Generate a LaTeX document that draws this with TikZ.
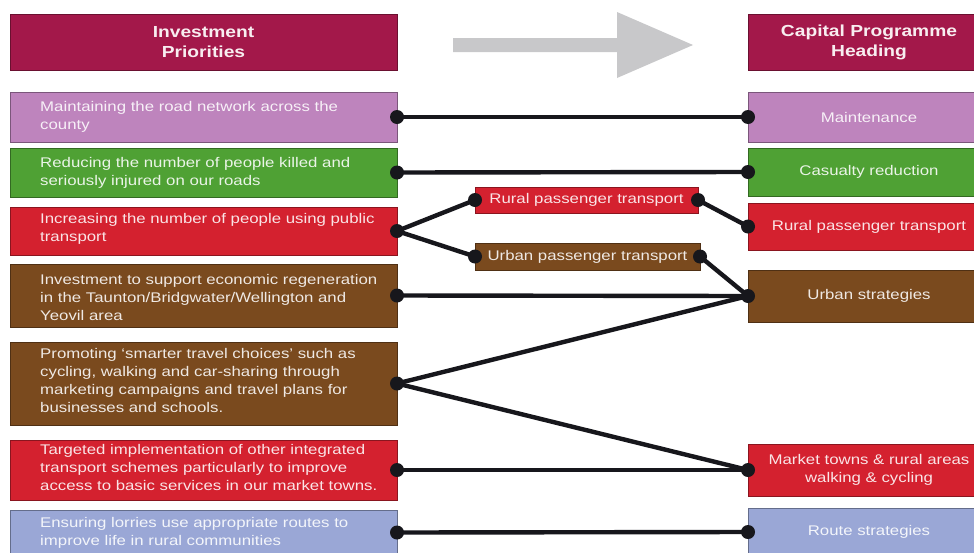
\documentclass[tikz,border=0pt]{standalone}
\usepackage{fontspec}
\setmainfont{Liberation Sans}[FakeStretch=1.2]
\definecolor{cHead}{HTML}{A3184A}
\definecolor{cPurple}{HTML}{BE84BD}
\definecolor{cGreen}{HTML}{4FA134}
\definecolor{cRed}{HTML}{D4212F}
\definecolor{cBrown}{HTML}{7A4A1E}
\definecolor{cBlue}{HTML}{9AA7D6}
\definecolor{cArrow}{HTML}{C8C8CA}
\definecolor{cLink}{HTML}{17171C}
\begin{document}
\begin{tikzpicture}[x=1pt,y=-1pt,
  bx/.style={draw=#1!65!black, fill=#1, line width=0.9pt, inner sep=0pt, outer sep=0pt,
    text=#1!12!white, font=\fontsize{14}{18}\selectfont, align=center},
  lbox/.style={bx=#1, minimum width=387pt},
  rbox/.style={bx=#1, minimum width=242pt},
  hbox/.style={bx=cHead, font=\bfseries\fontsize{16}{20}\selectfont, text=cHead!8!white},
  ltext/.style={anchor=west, align=left, inner sep=0pt, text=#1!12!white,
    font=\fontsize{14}{18}\selectfont},
  link/.style={draw=cLink, line width=4.4pt},
  dot/.style={fill=cLink}
]
\useasboundingbox (0,0) rectangle (974,552);
\fill[white] (0,0) rectangle (974,552);

% column headings
\node[hbox, minimum width=387pt, minimum height=56pt] (HL) at (203.5,42) {Investment\\Priorities};
\node[hbox, minimum width=242pt, minimum height=56pt] (HR) at (869,42) {Capital Programme\\Heading};

% direction arrow between the headings
\fill[cArrow] (453,38) -- (617,38) -- (617,12) -- (693,45) -- (617,78) -- (617,52) -- (453,52) -- cycle;

% investment priorities
\node[lbox=cPurple, minimum height=50pt] (L1) at (203.5,117) {};
\node[lbox=cGreen,  minimum height=49pt] (L2) at (203.5,172.5) {};
\node[lbox=cRed,    minimum height=48pt] (L3) at (203.5,231) {};
\node[lbox=cBrown,  minimum height=63pt] (L4) at (203.5,295.5) {};
\node[lbox=cBrown,  minimum height=83pt] (L5) at (203.5,383.5) {};
\node[lbox=cRed,    minimum height=60pt] (L6) at (203.5,470) {};
\node[lbox=cBlue,   minimum height=45pt] (L7) at (203.5,532.5) {};

\node[ltext=cPurple] (L1t) at (40,117) {Maintaining the road network across the\\county};
\node[ltext=cGreen]  (L2t) at (40,172.5) {Reducing the number of people killed and\\seriously injured on our roads};
\node[ltext=cRed]    (L3t) at (40,229) {Increasing the number of people using public\\transport};
\node[ltext=cBrown]  (L4t) at (40,297) {Investment to support economic regeneration\\in the Taunton/Bridgwater/Wellington and\\Yeovil area};
\node[ltext=cBrown]  (L5t) at (40,380) {Promoting ‘smarter travel choices’ such as\\cycling, walking and car-sharing through\\marketing campaigns and travel plans for\\businesses and schools.};
\node[ltext=cRed]    (L6t) at (40,467) {Targeted implementation of other integrated\\transport schemes particularly to improve\\access to basic services in our market towns.};
\node[ltext=cBlue]   (L7t) at (40,533) {Ensuring lorries use appropriate routes to\\improve life in rural communities};

% capital programme headings
\node[rbox=cPurple, minimum height=50pt] (R1) at (869,117) {Maintenance};
\node[rbox=cGreen,  minimum height=48pt] (R2) at (869,172) {Casualty reduction};
\node[rbox=cRed,    minimum height=47pt] (R3) at (869,226.5) {Rural passenger transport};
\node[rbox=cBrown,  minimum height=52pt] (R4) at (869,296) {Urban strategies};
\node[rbox=cRed,    minimum height=52pt] (R5) at (869,470) {Market towns \& rural areas\\walking \& cycling};
\node[rbox=cBlue,   minimum height=48pt] (R6) at (869,532) {Route strategies};

% intermediate programmes
\node[bx=cRed,   minimum width=223pt, minimum height=26pt] (M1) at (586.5,200) {Rural passenger transport};
\node[bx=cBrown, minimum width=225pt, minimum height=27pt] (M2) at (587.5,256.5) {Urban passenger transport};

% links
\draw[link] (L1.east) -- (R1.west);
\draw[link] (L2.east) -- (R2.west);
\draw[link] (L3.east) -- (M1.west);
\draw[link] (M1.east) -- (R3.west);
\draw[link] (L3.east) -- (M2.west);
\draw[link] (M2.east) -- (R4.west);
\draw[link] (L4.east) -- (R4.west);
\draw[link] (L5.east) -- (R4.west);
\draw[link] (L5.east) -- (R5.west);
\draw[link] (L6.east) -- (R5.west);
\draw[link] (L7.east) -- (R6.west);

% link end points
\foreach \p in {L1.east,L2.east,L3.east,L4.east,L5.east,L6.east,L7.east,
                R1.west,R2.west,R3.west,R4.west,R5.west,R6.west,
                M1.west,M1.east,M2.west,M2.east}
  \fill[dot] (\p) circle (7pt);
\end{tikzpicture}
\end{document}
